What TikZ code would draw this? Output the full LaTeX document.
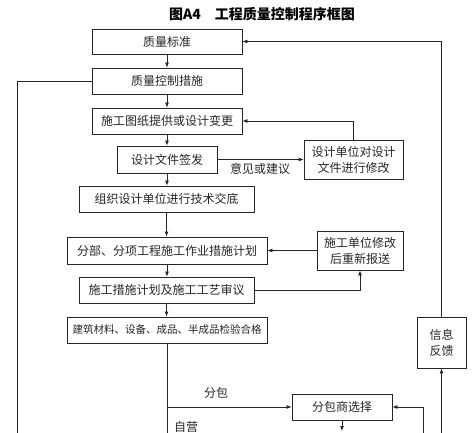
\documentclass[tikz,border=0pt]{standalone}
\usepackage{fontspec}
\newfontfamily\cjk{Noto Sans CJK SC}
\usetikzlibrary{arrows.meta}
\tikzset{
  box/.style={draw=black!85, line width=0.8pt, inner sep=0pt, align=center,
    font=\cjk\fontsize{12}{16}\selectfont, text=black!85},
  lbl/.style={inner sep=0pt, font=\cjk\fontsize{12}{16}\selectfont, text=black!85},
  conn/.style={draw=black!85, line width=0.8pt},
  arr/.style={conn, -{Latex[length=5pt,width=4pt]}}
}
\begin{document}
\begin{tikzpicture}[x=1pt,y=-1pt]
\clip (0,0) rectangle (474,433);
\fill[white] (0,0) rectangle (474,433);
\node[lbl, font=\cjk\bfseries\fontsize{14}{16}\selectfont, text=black] (title) at (262,14) {图A4　工程质量控制程序框图};
\node[box, minimum width=150pt, minimum height=25pt] (b1) at (167,41.5) {质量标准};
\node[box, minimum width=150pt, minimum height=26pt] (b2) at (167,81) {质量控制措施};
\node[box, minimum width=150pt, minimum height=26pt] (b3) at (167,121) {施工图纸提供或设计变更};
\node[box, minimum width=100pt, minimum height=27pt] (b4) at (167,159.5) {设计文件签发};
\node[box, minimum width=99pt, minimum height=39pt] (r1) at (353.5,159.5) {设计单位对设计\\文件进行修改};
\node[box, minimum width=175pt, minimum height=26pt] (b5) at (166.5,199) {组织设计单位进行技术交底};
\node[box, minimum width=200pt, minimum height=27pt] (b6) at (167,250.5) {分部、分项工程施工作业措施计划};
\node[box, minimum width=86pt, minimum height=39pt] (r2) at (360,250.5) {施工单位修改\\后重新报送};
\node[box, minimum width=175pt, minimum height=26pt] (b7) at (166.5,290) {施工措施计划及施工工艺审议};
\node[box, minimum width=200pt, minimum height=26pt, font=\cjk\fontsize{10.5}{14}\selectfont] (b8) at (167,330) {建筑材料、设备、成品、半成品检验合格};
\node[box, minimum width=100pt, minimum height=26pt] (fb) at (342,407) {分包商选择};
\node[box, minimum width=49pt, minimum height=51pt] (info) at (441.5,342.5) {信息\\反馈};
\node[lbl] (l1) at (260,169) {意见或建议};
\node[lbl] (l2) at (216,392.5) {分包};
\node[lbl] (l3) at (186,427) {自营};
\coordinate (cl) at (17,440);
\coordinate (cm) at (167,440);
\coordinate (br) at (167,407);
\coordinate (cfb) at (342,431);
\coordinate (cr) at (423,440);
\coordinate (ci) at (441.5,440);
% main flow
\draw[arr] (b1.south) -- (b2.north);
\draw[arr] (b2.south) -- (b3.north);
\draw[arr] (b3.south) -- (b4.north);
\draw[arr] (b4.south) -- (b4.south |- b5.north);
\draw[arr] (b5.south) -- (b5.south |- b6.north);
\draw[arr] (b6.south) -- (b6.south |- b7.north);
\draw[arr] (b7.south) -- (b7.south |- b8.north);
\draw[conn] (b8.south) -- (cm);
\draw[arr] (br) -- (fb.west);
\draw[arr] (fb.south) -- (cfb);
% side loops
\draw[arr] (b4.east) -- (r1.west);
\draw[arr] (r1.north) |- (b3.east);
\draw[arr] (r2.west) -- (b6.east);
\draw[arr] (b7.east) -| (r2.south);
\draw[arr] (info.north) |- (b1.east);
\draw[arr] (ci) -- (info.south);
\draw[arr] (cr) |- (fb.east);
\draw[conn] (b2.west) -| (cl);
\end{tikzpicture}
\end{document}
